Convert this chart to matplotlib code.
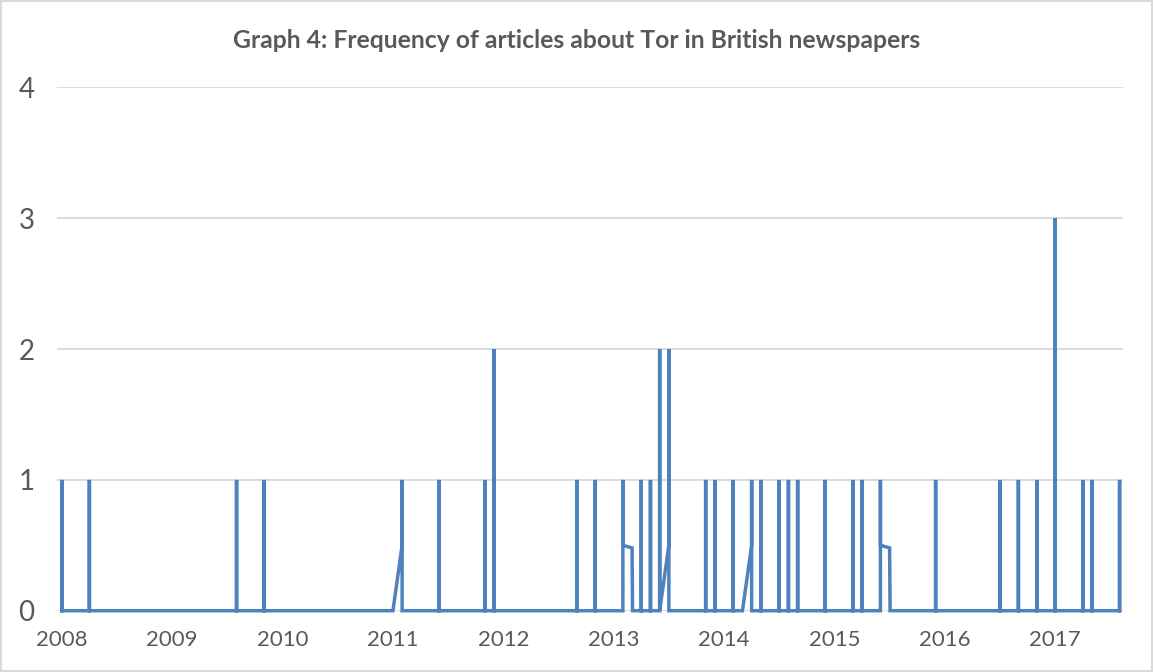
import matplotlib
matplotlib.use("Agg")
import matplotlib.pyplot as plt

# Monthly axis: first month and number of months shown
start_year = 2008
n_months = 116  # Jan 2008 .. Aug 2017

# Months with articles, and the count reached in that month
spike_months = ["2008-01", "2008-04", "2009-08", "2009-11", "2011-02", "2011-06",
                "2011-11", "2011-12", "2012-09", "2012-11", "2013-02", "2013-04",
                "2013-05", "2013-06", "2013-07", "2013-11", "2013-12", "2014-02",
                "2014-04", "2014-05", "2014-07", "2014-08", "2014-09", "2014-12",
                "2015-03", "2015-04", "2015-06", "2015-12", "2016-07", "2016-09",
                "2016-11", "2017-01", "2017-04", "2017-05", "2017-08"]
spike_counts = [1, 1, 1, 1, 1, 1,
                1, 2, 1, 1, 1, 1,
                1, 2, 2, 1, 1, 1,
                1, 1, 1, 1, 1, 1,
                1, 1, 1, 1, 1, 1,
                1, 3, 1, 1, 1]

# Months where the series enters or leaves at an intermediate value
entry_values = {"2011-02": 0.5, "2013-07": 0.5, "2014-04": 0.5}
exit_values = {"2013-02": 0.5, "2015-06": 0.5}
carry_values = {"2013-03": 0.48, "2015-07": 0.48}

year_labels = [str(y) for y in range(2008, 2018)]
y_ticks = [0, 1, 2, 3, 4]

title = "Graph 4: Frequency of articles about Tor in British newspapers"

line_color = "#4F81BD"
grid_color = "#D9D9D9"
text_color = "#595959"


def month_index(key):
    y, m = key.split("-")
    return (int(y) - start_year) * 12 + int(m) - 1


peaks = {month_index(k): v for k, v in zip(spike_months, spike_counts)}
entries = {month_index(k): v for k, v in entry_values.items()}
exits = {month_index(k): v for k, v in exit_values.items()}
carries = {month_index(k): v for k, v in carry_values.items()}

xs, ys = [], []
for i in range(n_months):
    if i in peaks:
        seq = [entries.get(i, 0), peaks[i], exits.get(i, 0)]
        offs = [0.0, 0.0, 0.0]
    elif i in carries:
        seq = [carries[i], 0]
        offs = [0.0, 0.05]
    else:
        seq = [0]
        offs = [0.0]
    for v, o in zip(seq, offs):
        xs.append(i + o)
        ys.append(v)

fig = plt.figure(figsize=(11.53, 6.72), dpi=100)
fig.patch.set_facecolor("white")
fig.patch.set_edgecolor(grid_color)
fig.patch.set_linewidth(1.5)

ax = fig.add_axes([0.0492, 0.0912, 0.9250, 0.7786])
ax.plot(xs, ys, color=line_color, linewidth=2.5, solid_joinstyle="miter",
        clip_on=False, zorder=3)

ax.set_xlim(-0.55, 115.4)
ax.set_ylim(0, 4)
ax.set_yticks(y_ticks)
ax.set_yticklabels([str(t) for t in y_ticks])
ax.set_xticks([12 * k for k in range(len(year_labels))])
ax.set_xticklabels(year_labels)

for s in ax.spines.values():
    s.set_visible(False)
ax.grid(axis="y", color=grid_color, linewidth=1.3)
ax.set_axisbelow(True)
ax.tick_params(axis="both", length=0, colors=text_color)
for lab in ax.get_yticklabels():
    lab.set_fontsize(20)
    lab.set_fontfamily("Lato")
for lab in ax.get_xticklabels():
    lab.set_fontsize(16)
    lab.set_fontfamily("Lato")
ax.tick_params(axis="y", pad=16)
ax.tick_params(axis="x", pad=14)

fig.text(0.5, 0.94, title, ha="center", va="center", fontsize=17.8,
         fontweight="bold", color=text_color, family="Lato")

fig.savefig("out.png", dpi=100)
